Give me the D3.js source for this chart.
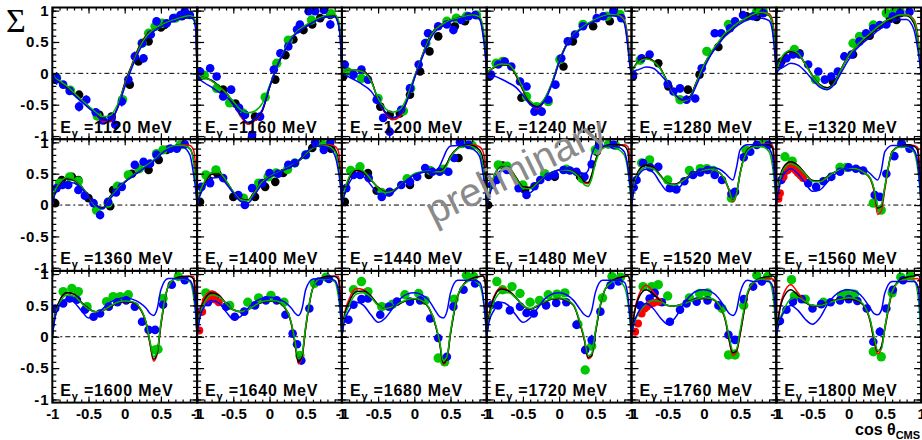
<!DOCTYPE html>
<html><head><meta charset="utf-8">
<script src="https://cdn.jsdelivr.net/npm/d3@7"></script>
<style>body{margin:0;background:#fff}svg{display:block}</style>
</head><body>
<script>
const energies=[1120,1160,1200,1240,1280,1320,1360,1400,1440,1480,1520,1560,1600,1640,1680,1720,1760,1800];
const yTicks=[1,0.5,0,-0.5,-1];
const xTicks=[-1,-0.5,0,0.5,1];
const gridX=[-1,-0.97,-0.9,-0.8,-0.7,-0.6,-0.5,-0.4,-0.3,-0.2,-0.1,0,0.1,0.2,0.3,0.35,0.4,0.45,0.5,0.6,0.7,0.8,0.9,0.95,0.98,1];

const curveBlack=[
[0,-0.07,-0.14,-0.22,-0.33,-0.43,-0.53,-0.64,-0.74,-0.75,-0.55,-0.17,0.13,0.42,0.6,0.66,0.7,0.73,0.77,0.82,0.86,0.89,0.91,0.89,0.75,0],
[0,-0.04,-0.07,-0.11,-0.2,-0.3,-0.48,-0.66,-0.79,-0.73,-0.6,-0.23,0.1,0.34,0.55,0.62,0.68,0.72,0.75,0.82,0.88,0.92,0.92,0.8,0.53,0],
[0,0.03,0.06,0.05,0.03,-0.1,-0.42,-0.62,-0.71,-0.66,-0.42,-0.07,0.25,0.55,0.72,0.75,0.79,0.82,0.85,0.88,0.91,0.93,0.88,0.64,0.35,0],
[0,0.04,0.09,0.14,0.13,-0.02,-0.26,-0.47,-0.53,-0.41,-0.16,0.19,0.46,0.62,0.71,0.75,0.79,0.82,0.85,0.9,0.93,0.92,0.82,0.45,0.12,0],
[0,0.09,0.19,0.25,0.2,0.08,-0.14,-0.34,-0.42,-0.38,-0.13,0.13,0.33,0.48,0.63,0.67,0.73,0.78,0.82,0.88,0.94,0.96,0.92,0.75,0.4,0],
[0,0.12,0.28,0.35,0.31,0.15,-0.04,-0.18,-0.23,-0.14,0.08,0.28,0.42,0.52,0.62,0.67,0.72,0.77,0.82,0.87,0.92,0.92,0.8,0.55,0.25,0],
[0,0.18,0.33,0.42,0.4,0.3,0.14,0,-0.04,0.14,0.25,0.37,0.46,0.54,0.62,0.66,0.71,0.76,0.82,0.9,0.94,0.95,0.9,0.72,0.4,0],
[0,0.15,0.34,0.49,0.5,0.38,0.21,0.1,0.08,0.22,0.38,0.45,0.5,0.56,0.62,0.65,0.7,0.75,0.81,0.91,0.95,0.95,0.89,0.72,0.4,0],
[0,0.18,0.42,0.55,0.52,0.4,0.28,0.21,0.23,0.31,0.4,0.49,0.52,0.53,0.53,0.54,0.57,0.66,0.78,0.91,0.96,0.95,0.88,0.72,0.4,0],
[0,0.15,0.45,0.62,0.6,0.45,0.29,0.28,0.36,0.45,0.52,0.56,0.57,0.53,0.44,0.37,0.36,0.48,0.7,0.92,0.96,0.96,0.94,0.85,0.4,0],
[0,0.28,0.55,0.64,0.61,0.47,0.35,0.33,0.39,0.47,0.53,0.56,0.57,0.53,0.38,0.24,0.08,0.19,0.51,0.88,0.95,0.96,0.96,0.9,0.45,0],
[0,0.3,0.6,0.69,0.63,0.5,0.39,0.38,0.45,0.52,0.57,0.59,0.58,0.53,0.42,0.25,-0.05,-0.02,0.29,0.85,0.94,0.96,0.94,0.88,0.45,0],
[0,0.3,0.57,0.7,0.68,0.55,0.45,0.4,0.42,0.48,0.54,0.56,0.55,0.47,0.2,-0.1,-0.36,-0.25,0.2,0.8,0.93,0.96,0.96,0.92,0.5,0],
[0,0.32,0.58,0.7,0.66,0.53,0.43,0.4,0.43,0.5,0.55,0.57,0.56,0.48,0.22,-0.08,-0.4,-0.3,0.15,0.78,0.93,0.96,0.96,0.92,0.5,0],
[0,0.3,0.55,0.72,0.73,0.65,0.51,0.45,0.48,0.53,0.58,0.6,0.57,0.46,0.15,-0.1,-0.42,-0.35,0.05,0.65,0.86,0.93,0.96,0.97,0.85,0],
[0,0.3,0.62,0.76,0.73,0.63,0.5,0.44,0.49,0.55,0.6,0.61,0.58,0.5,0.17,-0.05,-0.33,-0.3,0.05,0.65,0.86,0.93,0.96,0.97,0.88,0],
[0,0.3,0.62,0.75,0.68,0.57,0.5,0.49,0.52,0.57,0.6,0.61,0.6,0.52,0.25,-0.05,-0.26,-0.22,0.05,0.68,0.88,0.94,0.96,0.97,0.95,0],
[0,0.3,0.63,0.75,0.66,0.55,0.49,0.5,0.54,0.58,0.6,0.6,0.58,0.51,0.24,-0.05,-0.23,-0.16,0.15,0.72,0.9,0.95,0.97,0.98,0.96,0]
];
const curveRed=[
[0,-0.07,-0.14,-0.22,-0.32,-0.42,-0.53,-0.65,-0.77,-0.77,-0.55,-0.16,0.14,0.43,0.61,0.66,0.7,0.73,0.77,0.82,0.86,0.89,0.91,0.9,0.78,0],
[0,-0.04,-0.07,-0.12,-0.21,-0.31,-0.49,-0.68,-0.81,-0.75,-0.6,-0.22,0.11,0.35,0.56,0.63,0.69,0.73,0.76,0.83,0.88,0.92,0.92,0.82,0.56,0],
[0,0.03,0.06,0.05,0.03,-0.1,-0.43,-0.64,-0.74,-0.69,-0.43,-0.07,0.25,0.55,0.72,0.76,0.79,0.82,0.85,0.88,0.91,0.93,0.9,0.7,0.4,0],
[0,0.04,0.09,0.14,0.13,-0.02,-0.27,-0.49,-0.56,-0.43,-0.16,0.19,0.46,0.62,0.71,0.75,0.79,0.82,0.85,0.9,0.93,0.93,0.86,0.55,0.2,0],
[0,0.09,0.19,0.25,0.2,0.08,-0.15,-0.35,-0.44,-0.39,-0.13,0.13,0.33,0.48,0.63,0.67,0.73,0.78,0.82,0.88,0.94,0.97,0.95,0.83,0.5,0],
[0,0.12,0.28,0.35,0.31,0.15,-0.04,-0.18,-0.24,-0.15,0.08,0.28,0.42,0.52,0.62,0.67,0.72,0.77,0.82,0.88,0.93,0.94,0.86,0.65,0.3,0],
[0,0.18,0.33,0.42,0.4,0.3,0.14,0,-0.05,0.13,0.25,0.37,0.46,0.54,0.62,0.66,0.71,0.76,0.82,0.9,0.94,0.96,0.95,0.88,0.6,0],
[0,0.15,0.34,0.49,0.5,0.38,0.21,0.1,0.08,0.22,0.38,0.45,0.5,0.56,0.62,0.65,0.7,0.75,0.81,0.91,0.95,0.96,0.94,0.86,0.55,0],
[0,0.18,0.42,0.55,0.52,0.4,0.28,0.21,0.23,0.31,0.4,0.49,0.52,0.53,0.53,0.54,0.57,0.66,0.78,0.91,0.96,0.96,0.93,0.85,0.6,0],
[0,0.15,0.45,0.62,0.6,0.45,0.29,0.28,0.36,0.45,0.52,0.56,0.57,0.53,0.43,0.35,0.34,0.47,0.7,0.92,0.96,0.96,0.96,0.93,0.7,0],
[0,0.28,0.55,0.64,0.61,0.47,0.35,0.33,0.39,0.47,0.53,0.56,0.57,0.53,0.37,0.22,0.05,0.17,0.5,0.88,0.95,0.97,0.97,0.94,0.6,0],
[0,0.3,0.6,0.69,0.63,0.5,0.39,0.38,0.45,0.52,0.57,0.59,0.58,0.53,0.41,0.22,-0.15,-0.1,0.26,0.85,0.94,0.96,0.95,0.92,0.6,0],
[0,0.3,0.57,0.7,0.68,0.55,0.45,0.4,0.42,0.48,0.54,0.56,0.55,0.47,0.19,-0.12,-0.39,-0.27,0.18,0.8,0.93,0.96,0.97,0.96,0.7,0],
[0,0.34,0.62,0.73,0.67,0.53,0.43,0.4,0.43,0.5,0.55,0.57,0.56,0.48,0.21,-0.1,-0.43,-0.32,0.13,0.78,0.93,0.96,0.97,0.96,0.7,0],
[0,0.32,0.6,0.77,0.75,0.65,0.51,0.45,0.48,0.53,0.58,0.6,0.57,0.46,0.15,-0.1,-0.44,-0.36,0.05,0.65,0.86,0.93,0.96,0.97,0.9,0],
[0,0.32,0.64,0.78,0.74,0.63,0.5,0.44,0.49,0.55,0.6,0.61,0.58,0.5,0.16,-0.06,-0.35,-0.31,0.05,0.65,0.86,0.93,0.96,0.97,0.9,0],
[0,0.32,0.66,0.82,0.72,0.58,0.5,0.49,0.52,0.57,0.6,0.61,0.6,0.52,0.24,-0.07,-0.3,-0.25,0.03,0.66,0.87,0.92,0.93,0.92,0.85,0],
[0,0.32,0.68,0.83,0.7,0.56,0.49,0.5,0.54,0.58,0.6,0.6,0.58,0.51,0.23,-0.07,-0.27,-0.19,0.12,0.7,0.88,0.91,0.92,0.93,0.88,0]
];
const curveGreen=[
[0,-0.06,-0.12,-0.2,-0.31,-0.42,-0.52,-0.62,-0.69,-0.67,-0.5,-0.19,0.12,0.4,0.59,0.65,0.7,0.74,0.77,0.82,0.86,0.9,0.92,0.9,0.78,0],
[0,-0.04,-0.07,-0.12,-0.21,-0.31,-0.45,-0.58,-0.63,-0.6,-0.48,-0.2,0.1,0.36,0.56,0.63,0.69,0.73,0.77,0.84,0.89,0.93,0.94,0.86,0.6,0],
[0,0.03,0.06,0.05,0.02,-0.12,-0.4,-0.56,-0.62,-0.58,-0.38,-0.06,0.25,0.54,0.71,0.75,0.79,0.82,0.85,0.88,0.91,0.93,0.9,0.72,0.42,0],
[0,0.04,0.1,0.15,0.14,0,-0.24,-0.44,-0.5,-0.4,-0.15,0.19,0.45,0.62,0.72,0.76,0.8,0.83,0.86,0.91,0.94,0.93,0.84,0.5,0.15,0],
[0,0.08,0.18,0.23,0.19,0.07,-0.15,-0.36,-0.45,-0.4,-0.14,0.13,0.34,0.5,0.65,0.69,0.74,0.79,0.83,0.89,0.95,0.97,0.93,0.78,0.42,0],
[0,0.13,0.3,0.37,0.32,0.15,-0.05,-0.19,-0.25,-0.16,0.07,0.28,0.43,0.54,0.64,0.69,0.74,0.78,0.83,0.88,0.93,0.93,0.84,0.6,0.28,0],
[0,0.2,0.35,0.44,0.41,0.3,0.13,-0.02,-0.06,0.12,0.25,0.37,0.46,0.55,0.63,0.67,0.72,0.77,0.83,0.91,0.95,0.95,0.9,0.7,0.38,0],
[0,0.17,0.37,0.52,0.52,0.39,0.21,0.09,0.07,0.21,0.37,0.45,0.51,0.57,0.63,0.66,0.71,0.76,0.82,0.91,0.95,0.94,0.86,0.65,0.35,0],
[0,0.2,0.45,0.58,0.54,0.41,0.27,0.2,0.22,0.31,0.41,0.5,0.53,0.54,0.53,0.53,0.55,0.63,0.76,0.9,0.95,0.93,0.84,0.6,0.3,0],
[0,0.16,0.46,0.63,0.6,0.44,0.27,0.26,0.35,0.45,0.52,0.56,0.56,0.52,0.41,0.32,0.3,0.42,0.66,0.9,0.94,0.9,0.8,0.55,0.25,0],
[0,0.26,0.52,0.6,0.58,0.46,0.34,0.32,0.38,0.46,0.53,0.56,0.57,0.53,0.38,0.24,0.07,0.18,0.5,0.86,0.93,0.93,0.85,0.6,0.3,0],
[0,0.28,0.57,0.66,0.61,0.49,0.38,0.37,0.44,0.52,0.57,0.59,0.58,0.53,0.42,0.26,-0.02,0,0.3,0.84,0.92,0.92,0.85,0.6,0.3,0],
[0,0.27,0.53,0.66,0.65,0.54,0.44,0.4,0.42,0.49,0.55,0.57,0.56,0.48,0.21,-0.08,-0.32,-0.22,0.22,0.8,0.92,0.92,0.88,0.65,0.35,0],
[0,0.28,0.54,0.66,0.64,0.53,0.43,0.4,0.43,0.5,0.56,0.58,0.57,0.49,0.23,-0.06,-0.35,-0.27,0.17,0.78,0.92,0.92,0.88,0.65,0.35,0],
[0,0.27,0.5,0.68,0.7,0.63,0.5,0.45,0.48,0.54,0.59,0.61,0.58,0.47,0.17,-0.08,-0.38,-0.32,0.08,0.66,0.85,0.9,0.82,0.6,0.3,0],
[0,0.27,0.55,0.7,0.7,0.62,0.5,0.45,0.5,0.56,0.61,0.62,0.59,0.51,0.19,-0.03,-0.3,-0.27,0.08,0.66,0.85,0.9,0.8,0.55,0.25,0],
[0,0.18,0.38,0.52,0.58,0.56,0.5,0.49,0.52,0.56,0.6,0.62,0.61,0.53,0.27,0,-0.22,-0.2,0.1,0.7,0.88,0.92,0.88,0.7,0.35,0],
[0,0.2,0.42,0.6,0.63,0.56,0.5,0.5,0.53,0.57,0.6,0.62,0.6,0.52,0.26,0,-0.22,-0.2,0.15,0.72,0.88,0.92,0.9,0.72,0.35,0]
];
const curveBlue=[
[0,-0.08,-0.16,-0.25,-0.35,-0.45,-0.55,-0.65,-0.75,-0.74,-0.56,-0.22,0.09,0.36,0.55,0.62,0.67,0.71,0.74,0.8,0.84,0.87,0.89,0.86,0.7,0],
[0,-0.08,-0.15,-0.22,-0.3,-0.37,-0.5,-0.66,-0.78,-0.72,-0.58,-0.22,0.1,0.34,0.54,0.61,0.67,0.71,0.74,0.81,0.87,0.9,0.9,0.78,0.5,0],
[0,-0.02,-0.06,-0.12,-0.19,-0.28,-0.45,-0.62,-0.71,-0.66,-0.44,-0.09,0.22,0.5,0.68,0.72,0.76,0.8,0.83,0.86,0.89,0.91,0.86,0.6,0.3,0],
[0,-0.01,-0.04,-0.09,-0.15,-0.22,-0.35,-0.5,-0.55,-0.44,-0.18,0.17,0.44,0.61,0.7,0.74,0.78,0.81,0.84,0.89,0.92,0.91,0.8,0.42,0.1,0],
[0,0.03,0.06,0.1,0.08,-0.02,-0.16,-0.33,-0.42,-0.4,-0.18,0.08,0.3,0.46,0.6,0.65,0.7,0.75,0.79,0.85,0.88,0.88,0.84,0.65,0.3,0],
[0,0.05,0.1,0.16,0.13,0.03,-0.1,-0.22,-0.26,-0.18,0.02,0.22,0.38,0.49,0.58,0.63,0.68,0.72,0.76,0.82,0.86,0.86,0.7,0.42,0.18,0],
[0,0.15,0.28,0.36,0.35,0.27,0.13,0,-0.06,0.1,0.23,0.36,0.45,0.53,0.61,0.65,0.7,0.75,0.81,0.89,0.92,0.92,0.8,0.5,0.25,0],
[0,0.12,0.29,0.43,0.44,0.34,0.19,0.06,0.03,0.17,0.34,0.44,0.5,0.56,0.62,0.66,0.71,0.77,0.84,0.92,0.94,0.92,0.8,0.55,0.3,0],
[0,0.14,0.35,0.48,0.45,0.32,0.18,0.15,0.2,0.3,0.4,0.48,0.52,0.53,0.55,0.62,0.75,0.88,0.94,0.95,0.94,0.9,0.78,0.5,0.25,0],
[0,0.12,0.38,0.55,0.52,0.36,0.2,0.2,0.32,0.44,0.52,0.56,0.58,0.57,0.52,0.5,0.55,0.8,0.92,0.94,0.94,0.93,0.85,0.6,0.3,0],
[0,0.22,0.48,0.57,0.52,0.35,0.22,0.22,0.33,0.45,0.53,0.58,0.6,0.58,0.5,0.44,0.4,0.6,0.88,0.96,0.96,0.96,0.9,0.75,0.4,0],
[0,0.22,0.48,0.58,0.5,0.35,0.22,0.24,0.36,0.48,0.56,0.6,0.61,0.58,0.5,0.44,0.4,0.55,0.85,0.95,0.95,0.94,0.88,0.7,0.35,0],
[0,0.25,0.5,0.6,0.55,0.42,0.3,0.34,0.45,0.55,0.6,0.62,0.6,0.55,0.45,0.37,0.34,0.45,0.75,0.93,0.93,0.93,0.9,0.75,0.4,0],
[0,0.25,0.48,0.58,0.54,0.4,0.28,0.32,0.45,0.56,0.61,0.63,0.61,0.56,0.46,0.38,0.34,0.45,0.75,0.92,0.93,0.93,0.9,0.75,0.4,0],
[0,0.22,0.42,0.55,0.5,0.35,0.23,0.3,0.45,0.6,0.68,0.7,0.67,0.58,0.4,0.32,0.3,0.4,0.7,0.9,0.9,0.9,0.87,0.65,0.3,0],
[0,0.22,0.42,0.55,0.5,0.35,0.23,0.3,0.45,0.6,0.68,0.7,0.67,0.58,0.42,0.35,0.32,0.42,0.7,0.9,0.9,0.9,0.87,0.65,0.3,0],
[0,0.2,0.4,0.53,0.45,0.3,0.2,0.3,0.48,0.64,0.73,0.75,0.72,0.62,0.45,0.37,0.34,0.42,0.7,0.9,0.88,0.88,0.88,0.8,0.5,0],
[0,0.18,0.38,0.5,0.42,0.28,0.2,0.3,0.5,0.65,0.73,0.75,0.72,0.62,0.45,0.37,0.35,0.42,0.7,0.88,0.88,0.88,0.88,0.82,0.55,0]
];

// data points: blue [cos, Sigma, error], others [cos, Sigma]
const ptsBlue=[
[[-0.94,-0.08,0.1],[-0.85,-0.18,0.06],[-0.76,-0.28,0.05],[-0.63,-0.53,0.08],[-0.53,-0.42,0.07],[-0.4,-0.62,0.05],[-0.3,-0.75,0.05],[-0.18,-0.71,0.06],[-0.13,-0.82,0.06],[-0.04,-0.45,0.08],[0.05,-0.1,0.07],[0.14,0.27,0.08],[0.24,0.48,0.06],[0.26,0.24,0.07],[0.36,0.62,0.05],[0.44,0.83,0.07],[0.58,0.8,0.05],[0.67,0.88,0.05],[0.77,0.93,0.05],[0.83,0.99,0.08],[0.9,0.93,0.05]],
[[-0.96,0.03,0.04],[-0.82,0.08,0.05],[-0.73,-0.05,0.05],[-0.64,-0.37,0.06],[-0.53,-0.26,0.06],[-0.42,-0.55,0.05],[-0.34,-0.66,0.06],[-0.24,-0.98,0.08],[-0.13,-0.69,0.05],[0.06,0.06,0.05],[0.15,0.32,0.06],[0.26,0.43,0.05],[0.38,0.7,0.06],[0.42,0.78,0.05],[0.54,0.99,0.05],[0.63,0.99,0.05],[0.75,1.01,0.05],[0.84,0.78,0.07]],
[[-0.96,0.14,0.06],[-0.84,-0.02,0.05],[-0.73,0.06,0.05],[-0.64,-0.1,0.05],[-0.52,-0.42,0.06],[-0.43,-0.71,0.06],[-0.34,-0.93,0.1],[-0.18,-0.58,0.05],[-0.06,-0.24,0.05],[0.06,0.14,0.05],[0.15,0.48,0.06],[0.19,0.64,0.05],[0.33,0.75,0.05],[0.45,0.78,0.05],[0.54,0.69,0.05],[0.65,0.85,0.05],[0.75,0.91,0.05],[0.84,0.93,0.05]],
[[-0.94,-0.02,0.05],[-0.84,0.14,0.05],[-0.75,0.19,0.05],[-0.66,0.11,0.05],[-0.54,-0.13,0.06],[-0.45,-0.21,0.06],[-0.34,-0.61,0.06],[-0.24,-0.61,0.07],[-0.15,-0.42,0.06],[-0.05,-0.18,0.05],[0.03,0.24,0.05],[0.12,0.51,0.05],[0.22,0.62,0.05],[0.33,0.75,0.05],[0.52,0.88,0.05],[0.61,0.91,0.05],[0.75,0.99,0.05],[0.86,0.88,0.06]],
[[-0.98,-0.02,0.05],[-0.86,0.24,0.05],[-0.75,0.3,0.05],[-0.5,-0.17,0.05],[-0.42,-0.29,0.05],[-0.33,-0.24,0.06],[-0.24,-0.42,0.07],[-0.12,-0.4,0.06],[-0.03,0.08,0.05],[0.15,0.64,0.05],[0.24,0.64,0.05],[0.36,0.72,0.05],[0.43,0.83,0.05],[0.54,0.93,0.05],[0.68,0.91,0.05],[0.82,0.96,0.05]],
[[-0.95,0.14,0.05],[-0.86,0.24,0.05],[-0.77,0.3,0.05],[-0.68,0.3,0.05],[-0.56,0.14,0.05],[-0.42,0.03,0.05],[-0.33,-0.1,0.06],[-0.24,-0.05,0.05],[-0.15,0.03,0.05],[-0.06,0.27,0.05],[0.04,0.3,0.05],[0.15,0.51,0.05],[0.24,0.64,0.05],[0.34,0.72,0.05],[0.43,0.77,0.05],[0.52,0.78,0.05],[0.61,0.91,0.05],[0.71,0.96,0.05],[0.84,0.98,0.05]],
[[-0.94,0.27,0.05],[-0.86,0.32,0.05],[-0.78,0.32,0.05],[-0.64,0.24,0.05],[-0.55,0.15,0.05],[-0.43,0.03,0.05],[-0.34,-0.16,0.06],[-0.23,0.05,0.05],[-0.12,0.2,0.05],[-0.04,0.29,0.05],[0.14,0.64,0.05],[0.26,0.69,0.05],[0.35,0.66,0.05],[0.44,0.8,0.05],[0.63,0.9,0.05],[0.72,0.9,0.05],[0.83,0.97,0.05]],
[[-0.94,0.29,0.05],[-0.82,0.35,0.05],[-0.64,0.43,0.05],[-0.43,0.16,0.05],[-0.34,0,0.05],[-0.24,0.27,0.05],[-0.1,0.35,0.05],[0,0.51,0.05],[0.12,0.5,0.05],[0.26,0.64,0.05],[0.35,0.67,0.05],[0.5,0.8,0.05],[0.63,1.0,0.05],[0.75,0.88,0.05],[0.84,1.0,0.05]],
[[-0.94,0.27,0.05],[-0.84,0.48,0.05],[-0.75,0.48,0.05],[-0.63,0.43,0.05],[-0.45,0.13,0.05],[-0.34,0.21,0.05],[-0.18,0.32,0.05],[-0.06,0.37,0.05],[0.04,0.45,0.05],[0.15,0.59,0.05],[0.25,0.53,0.05],[0.35,0.53,0.05],[0.47,0.53,0.05],[0.55,0.75,0.05],[0.63,1.0,0.05],[0.75,0.96,0.05]],
[[-0.93,0.32,0.05],[-0.86,0.4,0.05],[-0.72,0.56,0.05],[-0.56,0.27,0.05],[-0.45,0.16,0.05],[-0.34,0.3,0.05],[-0.26,0.4,0.05],[-0.15,0.45,0.05],[-0.06,0.48,0.05],[0.06,0.56,0.05],[0.15,0.55,0.05],[0.24,0.53,0.05],[0.35,0.45,0.05],[0.45,0.65,0.05],[0.55,0.95,0.05],[0.75,0.96,0.05]],
[[-0.97,0.28,0.05],[-0.93,0.4,0.05],[-0.84,0.67,0.05],[-0.74,0.6,0.05],[-0.63,0.61,0.05],[-0.47,0.27,0.05],[-0.38,0.25,0.05],[-0.27,0.38,0.05],[-0.15,0.48,0.05],[-0.05,0.52,0.05],[0.05,0.56,0.05],[0.15,0.48,0.05],[0.25,0.4,0.05],[0.38,0.18,0.05],[0.43,0.21,0.05],[0.55,0.76,0.05],[0.64,0.85,0.05],[0.73,0.96,0.05],[0.89,0.96,0.05]],
[[-0.93,0.4,0.05],[-0.86,0.55,0.05],[-0.76,0.6,0.05],[-0.56,0.35,0.05],[-0.45,0.29,0.05],[-0.35,0.38,0.05],[-0.24,0.45,0.05],[-0.12,0.53,0.05],[0,0.6,0.05],[0.1,0.58,0.05],[0.2,0.55,0.05],[0.36,0.16,0.05],[0.43,0.13,0.05],[0.52,0.5,0.05],[0.63,0.78,0.05],[0.73,0.98,0.05],[0.84,0.9,0.05]],
[[-0.96,0.45,0.05],[-0.85,0.53,0.05],[-0.76,0.61,0.05],[-0.66,0.59,0.05],[-0.55,0.43,0.05],[-0.43,0.32,0.05],[-0.34,0.37,0.05],[-0.22,0.48,0.05],[-0.1,0.55,0.05],[0.02,0.58,0.05],[0.14,0.48,0.05],[0.24,0.24,0.05],[0.33,0.11,0.05],[0.42,0.11,0.05],[0.53,0.51,0.05],[0.65,0.83,0.05],[0.83,0.9,0.05]],
[[-0.95,0.4,0.05],[-0.85,0.55,0.05],[-0.75,0.6,0.05],[-0.6,0.48,0.05],[-0.48,0.32,0.05],[-0.35,0.4,0.05],[-0.2,0.5,0.05],[-0.05,0.58,0.05],[0.1,0.58,0.05],[0.22,0.35,0.05],[0.32,0.05,0.05],[0.38,-0.12,0.05],[0.44,-0.38,0.06],[0.55,0.45,0.05],[0.68,0.88,0.05],[0.82,0.92,0.05]],
[[-0.91,0.27,0.05],[-0.84,0.51,0.05],[-0.73,0.6,0.05],[-0.64,0.61,0.05],[-0.47,0.35,0.05],[-0.35,0.48,0.05],[-0.24,0.56,0.05],[-0.06,0.56,0.05],[0.08,0.58,0.05],[0.22,0.29,0.05],[0.33,-0.02,0.06],[0.45,-0.32,0.05],[0.54,0.48,0.05],[0.68,0.75,0.05],[0.84,0.85,0.05]],
[[-0.93,0.51,0.06],[-0.84,0.5,0.05],[-0.68,0.42,0.05],[-0.54,0.48,0.05],[-0.45,0.38,0.05],[-0.35,0.37,0.05],[-0.18,0.5,0.05],[-0.04,0.54,0.05],[0.1,0.55,0.05],[0.24,0.19,0.05],[0.36,-0.21,0.06],[0.45,-0.05,0.08],[0.57,0.4,0.05],[0.71,0.82,0.05],[0.82,0.88,0.05]],
[[-0.88,0.5,0.05],[-0.75,0.61,0.05],[-0.68,0.7,0.05],[-0.58,0.55,0.05],[-0.47,0.24,0.05],[-0.33,0.43,0.05],[-0.24,0.53,0.05],[-0.1,0.56,0.05],[0.05,0.58,0.05],[0.2,0.5,0.05],[0.34,0.03,0.06],[0.43,-0.05,0.05],[0.55,0.6,0.05],[0.68,0.8,0.05],[0.8,0.88,0.05]],
[[-0.95,0.25,0.05],[-0.86,0.43,0.05],[-0.77,0.56,0.05],[-0.65,0.6,0.05],[-0.5,0.45,0.05],[-0.38,0.52,0.05],[-0.25,0.55,0.05],[-0.12,0.58,0.05],[0,0.6,0.05],[0.12,0.57,0.05],[0.25,0.45,0.05],[0.34,-0.08,0.06],[0.43,0.08,0.07],[0.52,0.45,0.05],[0.61,0.75,0.05],[0.75,0.9,0.05]]
];
const ptsBlack=[
[[-0.96,-0.1],[-0.63,-0.34],[-0.35,-0.66],[-0.18,-0.69],[0.07,-0.18],[0.19,0.19],[0.33,0.51],[0.5,0.73],[0.55,0.77],[0.79,0.91]],
[[-0.96,-0.05],[-0.64,-0.26],[-0.47,-0.48],[-0.34,-0.66],[-0.2,-0.69],[0.08,-0.1],[0.22,0.29],[0.33,0.54],[0.47,0.69],[0.59,0.78],[0.7,0.88],[0.84,0.93]],
[[-0.98,-0.05],[-0.47,-0.53],[-0.34,-0.66],[-0.2,-0.64],[-0.06,-0.34],[0.08,0.03],[0.21,0.35],[0.33,0.59],[0.56,0.75],[0.7,0.83]],
[[-0.96,-0.05],[-0.52,-0.39],[-0.29,-0.58],[0.06,0.11],[0.19,0.51],[0.47,0.75],[0.7,0.83]],
[[-0.98,-0.05],[-0.63,0.16],[-0.49,-0.21],[-0.22,-0.26],[-0.06,-0.02],[0.2,0.42],[0.59,0.91],[0.73,0.9]],
[[-0.93,0.19],[-0.68,0.32],[-0.22,-0.13],[0.06,0.3],[0.29,0.6],[0.57,0.88],[0.66,0.85]],
[[-0.96,0.03],[-0.87,0.4],[-0.73,0.45],[-0.64,0.4],[-0.5,0.11],[-0.2,-0.02],[-0.16,0.24],[0.1,0.5],[0.33,0.56],[0.47,0.72],[0.58,0.88]],
[[-0.96,0.05],[-0.84,0.4],[-0.72,0.5],[-0.5,0.13],[-0.2,0.13],[-0.06,0.29],[0.08,0.37],[0.19,0.51],[0.59,0.91],[0.85,0.9]],
[[-0.96,0.05],[-0.64,0.51],[-0.52,0.23],[-0.35,0.2],[-0.06,0.32],[0.2,0.48],[0.61,0.75]],
[[-0.98,0],[-0.78,0.63],[-0.47,0.24],[-0.06,0.45],[0.29,0.45],[0.52,0.85]],
[],[],[],[],[],[],[],[]
];
const ptsGreen=[
[[-0.94,-0.07],[-0.75,-0.27],[-0.38,-0.68],[-0.03,-0.42],[0.24,0.48],[0.33,0.64],[0.42,0.75],[0.52,0.8],[0.7,0.88],[0.85,0.94]],
[[-0.9,-0.03],[-0.73,-0.24],[-0.55,-0.47],[-0.37,-0.63],[-0.06,-0.38],[0.1,0.16],[0.26,0.53],[0.58,0.85],[0.85,0.95]],
[[-0.93,0.03],[-0.73,-0.08],[-0.5,-0.4],[-0.15,-0.6],[-0.05,-0.24],[0.16,0.48],[0.45,0.83],[0.58,0.88],[0.72,0.91],[0.86,0.93]],
[[-0.87,0.16],[-0.78,0.19],[-0.45,-0.37],[-0.31,-0.53],[-0.15,-0.45],[0.01,0.22],[0.33,0.78],[0.66,0.91],[0.84,0.94]],
[[-0.88,0.21],[-0.33,-0.42],[0.04,0.35],[0.34,0.78],[0.73,0.99],[0.82,0.99]],
[[-0.75,0.38],[-0.46,-0.1],[0.06,0.48],[0.15,0.59],[0.34,0.77],[0.52,0.96],[0.62,0.97],[0.71,0.99]],
[[-0.9,0.35],[-0.76,0.45],[-0.64,0.38],[-0.39,-0.08],[-0.23,0.03],[-0.1,0.3],[0.05,0.48],[0.2,0.58],[0.44,0.82],[0.53,0.88],[0.77,0.96]],
[[-0.88,0.48],[-0.74,0.56],[-0.36,0.11],[-0.15,0.35],[-0.02,0.45],[0.09,0.51],[0.25,0.57],[0.35,0.67],[0.5,0.8],[0.72,0.98]],
[[-0.88,0.55],[-0.75,0.61],[-0.45,0.2],[-0.1,0.42],[0.22,0.55],[0.4,0.57],[0.66,0.98],[0.8,0.95]],
[[-0.84,0.64],[-0.72,0.62],[-0.5,0.32],[-0.2,0.5],[0.1,0.57],[0.32,0.42],[0.5,0.88],[0.68,0.97],[0.78,0.95]],
[[-0.86,0.67],[-0.75,0.72],[-0.5,0.4],[-0.2,0.55],[-0.05,0.58],[0.04,0.58],[0.13,0.55],[0.38,0.11],[0.58,0.88],[0.82,0.99]],
[[-0.88,0.77],[-0.78,0.7],[-0.66,0.48],[-0.12,0.6],[-0.03,0.6],[0.34,0.03],[0.45,-0.08],[0.73,0.98]],
[[-0.85,0.72],[-0.73,0.77],[-0.64,0.72],[-0.52,0.48],[-0.25,0.56],[-0.16,0.64],[-0.06,0.64],[0.05,0.67],[0.42,-0.21],[0.46,-0.2],[0.53,0.61],[0.74,0.96]],
[[-0.88,0.7],[-0.78,0.66],[-0.55,0.5],[-0.3,0.55],[-0.15,0.62],[0.02,0.66],[0.2,0.55],[0.42,-0.3],[0.62,0.85],[0.78,0.95]],
[[-0.84,0.75],[-0.73,0.88],[-0.64,0.72],[-0.45,0.48],[-0.3,0.52],[-0.13,0.67],[0.06,0.69],[0.15,0.58],[0.33,-0.34],[0.42,-0.4],[0.55,0.6],[0.72,0.98],[0.82,0.96]],
[[-0.86,0.88],[-0.78,0.75],[-0.65,0.8],[-0.54,0.69],[-0.4,0.55],[-0.27,0.58],[-0.15,0.67],[-0.03,0.68],[0.08,0.7],[0.26,0.2],[0.36,-0.53],[0.45,-0.15],[0.6,0.62],[0.73,0.96],[0.85,0.95]],
[[-0.84,0.8],[-0.72,0.8],[-0.63,0.83],[-0.5,0.65],[-0.2,0.62],[-0.06,0.69],[0.05,0.7],[0.25,0.45],[0.34,-0.29],[0.43,-0.29],[0.55,0.5],[0.73,0.98],[0.88,0.96]],
[[-0.79,0.91],[-0.75,0.65],[-0.6,0.6],[-0.35,0.55],[-0.1,0.65],[-0.03,0.69],[0.08,0.68],[0.34,-0.24],[0.45,-0.32],[0.6,0.7],[0.72,0.95],[0.85,0.97]]
];
const ptsRed=[
[],[],[],[],[],[],[],[],[],[],[],
[[-0.97,0.1],[-0.95,0.19],[-0.9,0.45],[-0.84,0.56],[-0.8,0.62],[-0.77,0.59],[-0.73,0.55],[-0.7,0.51],[-0.66,0.47],[-0.63,0.43]],
[],
[[-0.97,0.1],[-0.93,0.4],[-0.88,0.58],[-0.84,0.62],[-0.8,0.65],[-0.76,0.6],[-0.7,0.55]],
[],[],
[[-0.95,0.08],[-0.91,0.21],[-0.86,0.37],[-0.82,0.45],[-0.79,0.48],[-0.75,0.52],[-0.7,0.54],[-0.63,0.56]],
[]
];

const W=922,H=440,x0=52.3,pw=144.8,y0=7.5,ph=131.7;
const FONT='"Liberation Sans", Arial, Helvetica, sans-serif';
const svg=d3.select('body').append('svg').attr('width',W).attr('height',H);
const xs=d3.scaleLinear().domain([-1,1]).range([0,pw]);
const ys=d3.scaleLinear().domain([-1.05,1.05]).range([ph,0]);
const line=d3.line().x((d,i)=>xs(gridX[i])).y(d=>ys(d)).curve(d3.curveMonotoneX);
const COL={blue:'#0000ff',green:'#00c800',red:'#ff0000',black:'#000000'};
const minor=d3.range(-10,11).map(d=>d/10);

energies.forEach((E,i)=>{
  const c=i%6,r=Math.floor(i/6);
  const g=svg.append('g').attr('transform',`translate(${x0+c*pw},${y0+r*ph})`);
  const cid='clip'+i;
  g.append('clipPath').attr('id',cid).append('rect').attr('width',pw).attr('height',ph);
  const inner=g.append('g').attr('clip-path',`url(#${cid})`);
  inner.append('line').attr('x1',0).attr('x2',pw).attr('y1',ys(0)).attr('y2',ys(0))
    .attr('stroke','#000').attr('stroke-width',1).attr('stroke-dasharray','5,3,2,3');
  const R=4.3;
  inner.selectAll('.pk').data(ptsBlack[i]).join('circle').attr('cx',d=>xs(d[0])).attr('cy',d=>ys(d[1])).attr('r',R).attr('fill',COL.black);
  inner.selectAll('.pg').data(ptsGreen[i]).join('circle').attr('cx',d=>xs(d[0])).attr('cy',d=>ys(d[1])).attr('r',R+0.4).attr('fill',COL.green);
  inner.selectAll('.eb').data(ptsBlue[i]).join('line').attr('x1',d=>xs(d[0])).attr('x2',d=>xs(d[0]))
    .attr('y1',d=>ys(d[1]-d[2])).attr('y2',d=>ys(d[1]+d[2])).attr('stroke',COL.blue).attr('stroke-width',1.5);
  inner.selectAll('.pb').data(ptsBlue[i]).join('circle').attr('cx',d=>xs(d[0])).attr('cy',d=>ys(d[1])).attr('r',R).attr('fill',COL.blue);
  inner.selectAll('.pr').data(ptsRed[i]).join('circle').attr('cx',d=>xs(d[0])).attr('cy',d=>ys(d[1])).attr('r',R-0.3).attr('fill',COL.red);
  [[curveRed,COL.red],[curveBlack,COL.black],[curveGreen,'#00b400'],[curveBlue,COL.blue]].forEach(([arr,col])=>{
    inner.append('path').attr('d',line(arr[i])).attr('fill','none').attr('stroke',col).attr('stroke-width',1.5);
  });
  const tk=(axis,tr)=>{const a=g.append('g').attr('transform',tr).call(axis);a.select('.domain').remove();a.selectAll('line').attr('stroke','#000').attr('stroke-width',1.2);a.selectAll('text').remove();};
  tk(d3.axisLeft(ys).tickValues(yTicks).tickSize(-7),'translate(0,0)');
  tk(d3.axisLeft(ys).tickValues(minor).tickSize(-4),'translate(0,0)');
  tk(d3.axisRight(ys).tickValues(yTicks).tickSize(-7),`translate(${pw},0)`);
  tk(d3.axisRight(ys).tickValues(minor).tickSize(-4),`translate(${pw},0)`);
  tk(d3.axisBottom(xs).tickValues(xTicks).tickSize(-6),`translate(0,${ph})`);
  tk(d3.axisBottom(xs).tickValues(minor).tickSize(-3),`translate(0,${ph})`);
  tk(d3.axisTop(xs).tickValues(xTicks).tickSize(-6),'translate(0,0)');
  tk(d3.axisTop(xs).tickValues(minor).tickSize(-3),'translate(0,0)');
  const t=g.append('text').attr('x',8).attr('y',ph-6.5).attr('font-family',FONT).attr('font-weight','bold')
    .attr('font-size',16).attr('letter-spacing','0.8px').attr('fill','#000');
  t.append('tspan').text('E');
  t.append('tspan').attr('font-size',11).attr('dy',4).text('γ');
  t.append('tspan').attr('dy',-4).text(' =' + E + ' MeV');
  g.append('rect').attr('width',pw).attr('height',ph).attr('fill','none').attr('stroke','#000').attr('stroke-width',2);
  if(c===0){
    const a=g.append('g').call(d3.axisLeft(ys).tickValues(yTicks).tickSize(0).tickPadding(3).tickFormat(d=>String(d)));
    a.select('.domain').remove();
    a.selectAll('text').attr('font-family',FONT).attr('font-weight','bold').attr('font-size',15).attr('letter-spacing','0.8px').attr('fill','#000');
  }
  if(r===2){
    const a=g.append('g').attr('transform',`translate(0,${ph})`).call(d3.axisBottom(xs).tickValues(xTicks).tickSize(0).tickPadding(5.5).tickFormat(d=>String(d)));
    a.select('.domain').remove();
    a.selectAll('text').attr('font-family',FONT).attr('font-weight','bold').attr('font-size',15).attr('fill','#000');
  }
});

svg.append('text').attr('x',6).attr('y',32).attr('font-family','"Liberation Serif", "DejaVu Serif", serif').attr('font-size',34).attr('fill','#000').text('Σ');
const xt=svg.append('text').attr('x',855).attr('y',435).attr('font-family',FONT).attr('font-weight','bold').attr('font-size',16).attr('fill','#000');
xt.append('tspan').text('cos θ');
xt.append('tspan').attr('font-size',11).attr('dy',4).text('CMS');
svg.append('text').attr('transform','translate(517,173) rotate(-26)').attr('text-anchor','middle').attr('dominant-baseline','middle')
  .attr('font-family',FONT).attr('font-size',40).attr('fill','#8a8a8a').text('preliminary');
</script>
</body></html>
